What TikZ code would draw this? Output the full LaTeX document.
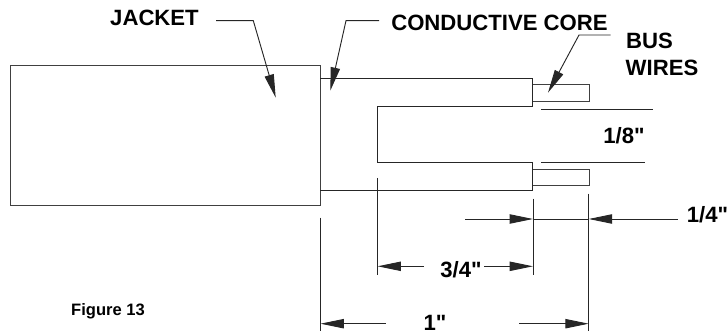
\documentclass[tikz,border=0pt]{standalone}
\usepackage{fontspec}
\setmainfont{Liberation Sans}[Ligatures=TeXOff]
\usetikzlibrary{arrows.meta,positioning}

\begin{document}
\begin{tikzpicture}[x=0.75pt, y=-0.75pt,
    outline/.style={draw=black!75, line width=0.7pt, inner sep=0pt, outer sep=0pt, anchor=north west},
    core/.style={draw=black!85, line width=0.7pt, line join=miter},
    thin line/.style={draw=black!85, line width=0.7pt},
    pointer/.style={draw=black!85, line width=0.7pt, -{Triangle[length=17.5pt, width=7pt]}, shorten >=0pt},
    big label/.style={font=\bfseries\fontsize{16.6}{20}\selectfont, inner sep=0pt},
    small label/.style={font=\bfseries\fontsize{12.4}{15}\selectfont, inner sep=0pt}]
    \useasboundingbox (0,0) rectangle (728,334);

    % jacket and bus wires
    \node[outline, minimum width=232.5pt, minimum height=105pt] (jacket) at (10,65) {};
    \node[outline, minimum width=42.4pt, minimum height=12.6pt] (upperbus) at (532.5,84.3) {};
    \node[outline, minimum width=42.4pt, minimum height=12pt] (lowerbus) at (532.5,169.7) {};

    % conductive core
    \coordinate (coreA) at (320,78.5);
    \coordinate (coreB) at (532.5,78.5);
    \coordinate (coreC) at (532.5,106.5);
    \coordinate (coreD) at (377.4,106.5);
    \coordinate (coreE) at (377.4,162.5);
    \coordinate (coreF) at (532.5,162.5);
    \coordinate (coreG) at (532.5,190.5);
    \coordinate (coreH) at (320,190.5);
    \draw[core] (coreA) -- (coreB) -- (coreC) -- (coreD) -- (coreE) -- (coreF) -- (coreG) -- (coreH);

    % labels
    \node[big label] (jacketlabel) at (154.5,18) {JACKET};
    \node[big label] (corelabel) at (499.5,23) {CONDUCTIVE CORE};
    \node[big label] (buslabel) at (649.5,41) {BUS};
    \node[big label] (wireslabel) at (662,68) {WIRES};
    \node[big label] (eighth) at (624,136) {1/8"};
    \node[big label] (quarter) at (707.5,215) {1/4"};
    \node[big label] (threequarter) at (461,270) {3/4"};
    \node[big label] (one) at (435,323) {1"};
    \node[small label] (figure) at (108,311) {Figure 13};

    % leaders
    \coordinate (jacketA) at (216,20.7);
    \coordinate (jacketB) at (253.3,20.7);
    \coordinate (jacketC) at (275.7,97.7);
    \coordinate (coreleadA) at (379,20.7);
    \coordinate (coreleadB) at (346,20.7);
    \coordinate (coreleadC) at (330.3,90.7);
    \coordinate (busA) at (610.7,35);
    \coordinate (busB) at (579,35);
    \coordinate (busC) at (548,92.7);
    \draw[pointer] (jacketA) -- (jacketB) -- (jacketC);
    \draw[pointer] (coreleadA) -- (coreleadB) -- (coreleadC);
    \draw[pointer] (busA) -- (busB) -- (busC);

    % extension lines
    \coordinate (extA) at (541.3,109);
    \coordinate (extB) at (653.3,109);
    \coordinate (extC) at (541.3,162.7);
    \coordinate (extD) at (645,162.7);
    \coordinate (extE) at (377.6,178);
    \coordinate (extF) at (377.6,275.3);
    \coordinate (extG) at (533,198.7);
    \coordinate (extH) at (533,275.3);
    \coordinate (extI) at (588.7,193.7);
    \coordinate (extJ) at (588.7,331);
    \coordinate (extK) at (320.5,217.7);
    \coordinate (extL) at (320.5,331);
    \draw[thin line] (extA) -- (extB);
    \draw[thin line] (extC) -- (extD);
    \draw[thin line] (extE) -- (extF);
    \draw[thin line] (extG) -- (extH);
    \draw[thin line] (extI) -- (extJ);
    \draw[thin line] (extK) -- (extL);

    % dimensions
    \coordinate (qA) at (465,219);
    \coordinate (qB) at (533,219);
    \coordinate (qC) at (588.7,219);
    \coordinate (qD) at (678,219);
    \draw[pointer] (qA) -- (qB);
    \draw[thin line] (qB) -- (qC);
    \draw[pointer] (qD) -- (qC);

    \coordinate (tA) at (424,266.3);
    \coordinate (tB) at (377.6,266.3);
    \coordinate (tC) at (484,266.3);
    \coordinate (tD) at (533,266.3);
    \draw[pointer] (tA) -- (tB);
    \draw[pointer] (tC) -- (tD);

    \coordinate (oA) at (385.7,323.7);
    \coordinate (oB) at (320.5,323.7);
    \coordinate (oC) at (519,323.7);
    \coordinate (oD) at (588.7,323.7);
    \draw[pointer] (oA) -- (oB);
    \draw[pointer] (oC) -- (oD);
\end{tikzpicture}
\end{document}
